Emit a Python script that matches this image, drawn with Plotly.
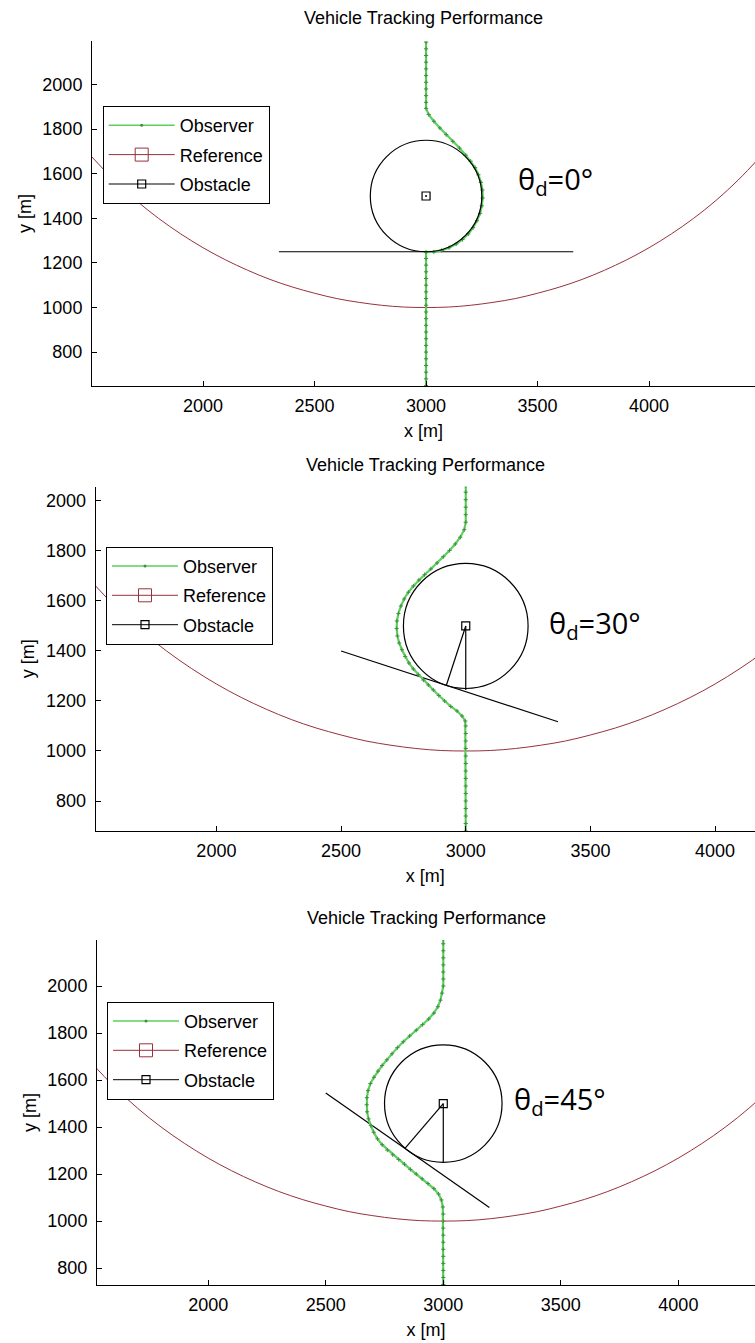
import plotly.graph_objects as go

# ---------------- data ----------------
ticks_x = [2000, 2500, 3000, 3500, 4000]
ticks_y = [800, 1000, 1200, 1400, 1600, 1800, 2000]

# reference trajectory (red arc)
ref_x = [1500, 1600, 1700, 1800, 1900, 2000, 2100, 2200, 2300, 2400, 2500, 2600, 2700, 2800, 2900,
         3000, 3100, 3200, 3300, 3400, 3500, 3600, 3700, 3800, 3900, 4000, 4100, 4200, 4300, 4400, 4500]
ref_y = [1677, 1572, 1480, 1400, 1330, 1268, 1214, 1167, 1126, 1092, 1064, 1040, 1023, 1010, 1002,
         1000, 1002, 1010, 1023, 1040, 1064, 1092, 1126, 1167, 1214, 1268, 1330, 1400, 1480, 1572, 1677]

# observer, theta_d = 0
obs1_x = [3000, 3000, 3000, 3000, 3000, 3000, 3000, 3000, 3000, 3000, 3000, 3000, 3000, 3000, 3000, 3000,
          3000, 3000, 3000, 3000, 3000,
          3035, 3070, 3103, 3135, 3163, 3189, 3211, 3228, 3242, 3250, 3254, 3253, 3246, 3235, 3220, 3200,
          3178, 3150, 3120, 3090, 3062, 3035, 3012, 3000,
          3000, 3000, 3000, 3000, 3000, 3000, 3000, 3000, 3000, 3000]
obs1_y = [650, 680, 710, 740, 770, 800, 830, 860, 890, 920, 950, 980, 1010, 1040, 1070, 1100,
          1130, 1160, 1190, 1220, 1248,
          1249, 1256, 1268, 1285, 1305, 1330, 1358, 1389, 1422, 1456, 1491, 1527, 1561, 1595, 1627, 1656,
          1683, 1715, 1745, 1775, 1805, 1835, 1865, 1893,
          1920, 1950, 1980, 2010, 2040, 2070, 2100, 2130, 2160, 2190]

# observer, theta_d = 30
obs2_x = [3000, 3000, 3000, 3000, 3000, 3000, 3000, 3000, 3000, 3000, 3000, 3000, 3000, 3000, 3000,
          2998, 2985, 2965, 2940, 2915, 2892, 2870, 2850, 2830, 2810, 2790, 2772, 2757, 2744, 2733, 2726,
          2723, 2724, 2730, 2740, 2753, 2770, 2790, 2812, 2835, 2860, 2885, 2910, 2935, 2958, 2978, 2994,
          3000, 3000, 3000, 3000, 3000, 3000]
obs2_y = [680, 710, 740, 770, 800, 830, 860, 890, 920, 950, 980, 1010, 1040, 1070, 1100,
          1120, 1140, 1160, 1178, 1200, 1222, 1244, 1264, 1284, 1305, 1328, 1352, 1378, 1405, 1432, 1460,
          1490, 1520, 1550, 1580, 1608, 1635, 1660, 1684, 1705, 1728, 1752, 1777, 1802, 1828, 1855, 1885,
          1915, 1945, 1975, 2005, 2035, 2060]

# observer, theta_d = 45
obs3_x = [3000, 3000, 3000, 3000, 3000, 3000, 3000, 3000, 3000, 3000,
          3000, 2998, 2992, 2980, 2960, 2935, 2910, 2885, 2860, 2835, 2810, 2785, 2762, 2740, 2720, 2704,
          2692, 2682, 2676, 2674, 2675, 2680, 2690, 2705, 2722, 2740, 2760, 2782, 2805, 2830, 2857, 2885,
          2912, 2938, 2960, 2977, 2988, 2995,
          3000, 3000, 3000, 3000, 3000, 3000, 3000, 3000]
obs3_y = [730, 760, 790, 820, 850, 880, 910, 940, 970, 1000,
          1030, 1060, 1090, 1115, 1138, 1160, 1180, 1200, 1220, 1242, 1262, 1282, 1302, 1325, 1350, 1378,
          1406, 1435, 1465, 1495, 1525, 1555, 1585, 1612, 1638, 1662, 1686, 1712, 1738, 1763, 1788, 1812,
          1836, 1860, 1885, 1912, 1940, 1970,
          2000, 2030, 2060, 2090, 2120, 2150, 2180, 2200]

# obstacle (centre, radius) and geometry lines
obst_cx = 3000
obst_cy = 1500
obst_r = 250
tan1_x = [2340, 3660]
tan1_y = [1250, 1250]
tan2_x = [2500, 3370]
tan2_y = [1400, 1117]
tan3_x = [2500, 3196]
tan3_y = [1545, 1058]
rad2_x = [3000, 3000, None, 3000, 2922]
rad2_y = [1500, 1244, None, 1500, 1262]
rad3_x = [3000, 3000, None, 3000, 2837]
rad3_y = [1500, 1250, None, 1500, 1309]

labels = ["θ<sub>d</sub>=0°", "θ<sub>d</sub>=30°", "θ<sub>d</sub>=45°"]
title_text = "Vehicle Tracking Performance"
legend_names = ["Observer", "Reference", "Obstacle"]

# ---------------- layout config ----------------
W, H = 755, 1343
FONT = "Liberation Sans, Arial, sans-serif"
FS = 18
GREEN = "rgb(90,210,90)"
GREEN_M = "rgb(70,140,70)"
RED = "rgb(150,50,60)"

panels = [
    dict(obs=(obs1_x, obs1_y), tan=(tan1_x, tan1_y), rad=None,
         xr=[1502, 4475], yr=[648, 2195], xd=[92 / W, 1], yd=[1 - 386 / H, 1 - 41 / H],
         lab=(3404, 1571), title_py=18, leg=(102.7, 106)),
    dict(obs=(obs2_x, obs2_y), tan=(tan2_x, tan2_y), rad=(rad2_x, rad2_y),
         xr=[1516, 4160], yr=[680, 2057], xd=[95.7 / W, 1], yd=[1 - 831 / H, 1 - 486.7 / H],
         lab=(3325, 1504), title_py=465, leg=(106, 546.7)),
    dict(obs=(obs3_x, obs3_y), tan=(tan3_x, tan3_y), rad=(rad3_x, rad3_y),
         xr=[1527, 4326], yr=[728, 2196], xd=[97 / W, 1], yd=[1 - 1285 / H, 1 - 940 / H],
         lab=(3291, 1515), title_py=918, leg=(107, 1001.7)),
]

fig = go.Figure()
annotations = []
shapes = []
layout = {}

for i, p in enumerate(panels, start=1):
    sfx = "" if i == 1 else str(i)
    xa, ya = "x" + sfx, "y" + sfx
    lg = "legend" + sfx

    # reference
    fig.add_trace(go.Scatter(x=ref_x, y=ref_y, mode="lines", line=dict(color=RED, width=1, shape="spline"),
                             xaxis=xa, yaxis=ya, showlegend=False, hoverinfo="skip"))
    # obstacle geometry
    fig.add_trace(go.Scatter(x=p["tan"][0], y=p["tan"][1], mode="lines", line=dict(color="black", width=1.2),
                             xaxis=xa, yaxis=ya, showlegend=False, hoverinfo="skip"))
    if p["rad"] is not None:
        fig.add_trace(go.Scatter(x=p["rad"][0], y=p["rad"][1], mode="lines", line=dict(color="black", width=1.2),
                                 xaxis=xa, yaxis=ya, showlegend=False, hoverinfo="skip"))
    # observer
    fig.add_trace(go.Scatter(x=p["obs"][0], y=p["obs"][1], mode="lines+markers",
                             line=dict(color=GREEN, width=2.2),
                             marker=dict(symbol="cross-thin", size=3, line=dict(color=GREEN_M, width=1)),
                             xaxis=xa, yaxis=ya, showlegend=False, hoverinfo="skip"))
    # obstacle centre
    fig.add_trace(go.Scatter(x=[obst_cx], y=[obst_cy], mode="markers",
                             marker=dict(symbol="square-open", size=8, color="black", line=dict(width=1.2)),
                             xaxis=xa, yaxis=ya, showlegend=False, hoverinfo="skip"))
    if i == 1:
        fig.add_trace(go.Scatter(x=[obst_cx], y=[obst_cy], mode="markers",
                                 marker=dict(symbol="circle", size=2, color="black"),
                                 xaxis=xa, yaxis=ya, showlegend=False, hoverinfo="skip"))
    shapes.append(dict(type="circle", xref=xa, yref=ya,
                       x0=obst_cx - obst_r, x1=obst_cx + obst_r, y0=obst_cy - obst_r, y1=obst_cy + obst_r,
                       line=dict(color="black", width=1.2)))

    # legend-only entries
    fig.add_trace(go.Scatter(x=[None], y=[None], mode="lines+markers", name=legend_names[0],
                             line=dict(color=GREEN, width=1.5),
                             marker=dict(symbol="circle", size=3, color=GREEN_M),
                             xaxis=xa, yaxis=ya, legend=lg, legendgroup=f"o{i}"))
    fig.add_trace(go.Scatter(x=[None], y=[None], mode="lines+markers", name=legend_names[1],
                             line=dict(color=RED, width=1),
                             marker=dict(symbol="square-open", size=13, color=RED, line=dict(width=1)),
                             xaxis=xa, yaxis=ya, legend=lg, legendgroup=f"r{i}"))
    fig.add_trace(go.Scatter(x=[None], y=[None], mode="lines+markers", name=legend_names[2],
                             line=dict(color="black", width=1),
                             marker=dict(symbol="square-open", size=8, color="black", line=dict(width=1.2)),
                             xaxis=xa, yaxis=ya, legend=lg, legendgroup=f"b{i}"))

    axis_common = dict(showline=True, linecolor="black", linewidth=1, ticks="inside", ticklen=5,
                       tickcolor="black", showgrid=False, zeroline=False, mirror=False,
                       tickfont=dict(family=FONT, size=FS, color="black"), automargin=False)
    layout["xaxis" + sfx] = dict(axis_common, domain=p["xd"], range=p["xr"], tickvals=ticks_x,
                                 anchor=ya, ticklabelstandoff=3,
                                 title=dict(text="x [m]", font=dict(family=FONT, size=FS, color="black"),
                                            standoff=9))
    layout["yaxis" + sfx] = dict(axis_common, domain=p["yd"], range=p["yr"], tickvals=ticks_y,
                                 anchor=xa, ticklabelstandoff=5,
                                 title=dict(text="y [m]", font=dict(family=FONT, size=FS, color="black"),
                                            standoff=6))
    layout[lg] = dict(x=p["leg"][0] / W, y=1 - p["leg"][1] / H, xanchor="left", yanchor="top",
                      bgcolor="white", bordercolor="black", borderwidth=1,
                      font=dict(family=FONT, size=FS, color="black"), itemwidth=66,
                      traceorder="grouped", tracegroupgap=3)

    annotations.append(dict(text=title_text, xref=xa + " domain", yref="paper", x=0.5, y=1 - p["title_py"] / H,
                            xanchor="center", yanchor="middle", showarrow=False,
                            font=dict(family=FONT, size=FS, color="black")))
    annotations.append(dict(text=labels[i - 1], xref=xa, yref=ya, x=p["lab"][0], y=p["lab"][1],
                            xanchor="left", yanchor="middle", showarrow=False,
                            font=dict(family="Open Sans", size=29, color="black")))

fig.update_layout(width=W, height=H, margin=dict(l=0, r=0, t=0, b=0), paper_bgcolor="white",
                  plot_bgcolor="white", annotations=annotations, shapes=shapes, **layout)

fig.write_html("out.html")
